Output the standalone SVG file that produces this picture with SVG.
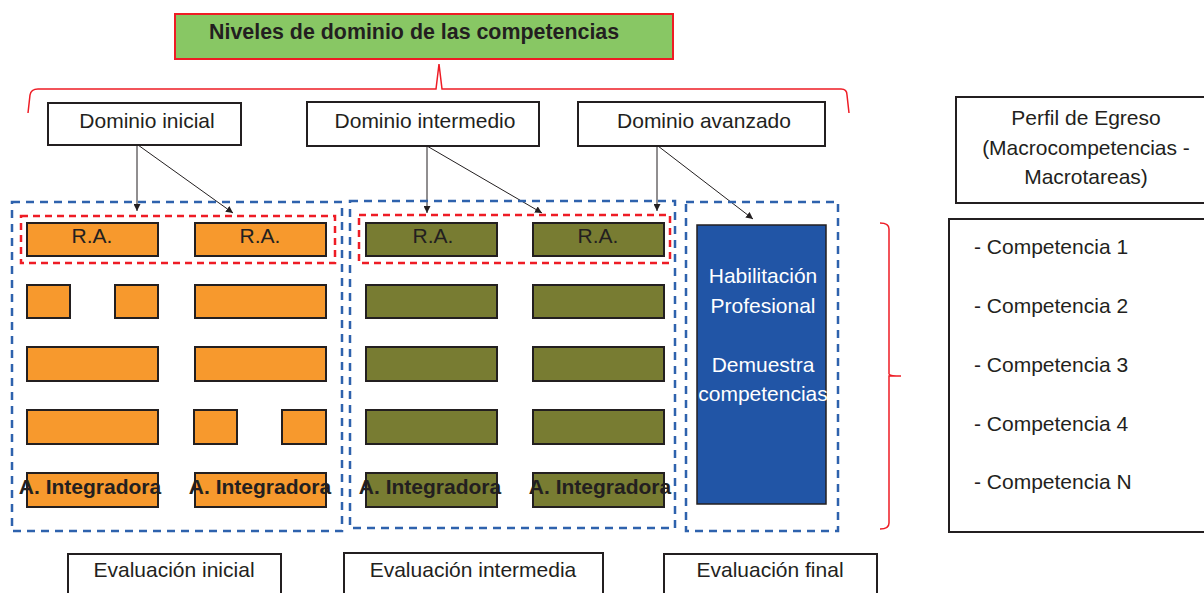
<svg xmlns="http://www.w3.org/2000/svg" width="1204" height="593" viewBox="0 0 1204 593">
<style>
text{font-family:"Liberation Sans",Arial,sans-serif;font-size:21px;fill:#231f20}
.c{text-anchor:middle}
.b{font-weight:bold}
.t{font-size:21.4px}
.w{fill:#ffffff}
.box{fill:#ffffff;stroke:#231f20;stroke-width:2}
.or{fill:#f7992d;stroke:#231f20;stroke-width:2}
.ol{fill:#787c32;stroke:#231f20;stroke-width:2}
.bd{fill:none;stroke:#2e62ad;stroke-width:2.5;stroke-dasharray:8 6}
.rd{fill:none;stroke:#ee1c25;stroke-width:2.5;stroke-dasharray:7 5}
.br{fill:none;stroke:#ee1c25;stroke-width:1.5}
.ln{stroke:#231f20;stroke-width:1;fill:none;marker-end:url(#ah)}
</style>
<defs>
<marker id="ah" viewBox="0 0 10 10" refX="10" refY="5" markerWidth="7" markerHeight="7" markerUnits="userSpaceOnUse" orient="auto"><path d="M0,0 L10,5 L0,10 z" fill="#231f20"/></marker>
</defs>
<rect width="1204" height="593" fill="#ffffff"/>
<g id="title">
<rect x="175" y="14" width="498" height="45" fill="#88c764" stroke="#ee1c25" stroke-width="2"/>
<text class="b t" x="209" y="39">Niveles de dominio de las competencias</text>
</g>
<g id="braces">
<path class="br" d="M28,113 L30,95 Q31,89 38,89 L436,89 L439,64 L442,89 L841,89 Q847,89 847,95 L849,113"/>
<path class="br" d="M880,223 Q889,223 889,229 L889,374 Q890,376 901,376 L889,376 L889,523 Q889,529 880,529"/>
</g>
<g id="dominio-inicial"><rect class="box" x="48" y="103" width="193" height="42"/><text class="c" x="147" y="128">Dominio inicial</text></g>
<g id="dominio-intermedio"><rect class="box" x="307" y="102" width="232" height="44"/><text class="c" x="425" y="128">Dominio intermedio</text></g>
<g id="dominio-avanzado"><rect class="box" x="578" y="102" width="247" height="44"/><text class="c" x="704" y="128">Dominio avanzado</text></g>
<g id="connectors">
<line class="ln" x1="137" y1="145" x2="137" y2="211"/>
<line class="ln" x1="138" y1="145" x2="233" y2="213"/>
<line class="ln" x1="427" y1="146" x2="427" y2="213"/>
<line class="ln" x1="427" y1="146" x2="542" y2="213"/>
<line class="ln" x1="657" y1="146" x2="657" y2="211"/>
<line class="ln" x1="658" y1="146" x2="753" y2="219"/>
</g>
<g id="eval-inicial-group">
<rect class="bd" x="12" y="202" width="330" height="329"/>
<rect class="rd" x="21" y="216" width="314" height="47"/>
<rect class="or" x="27" y="223" width="131" height="33"/><text class="c" x="92" y="243">R.A.</text>
<rect class="or" x="195" y="223" width="131" height="33"/><text class="c" x="260" y="243">R.A.</text>
<rect class="or" x="27" y="285" width="43" height="33"/>
<rect class="or" x="115" y="285" width="43" height="33"/>
<rect class="or" x="195" y="285" width="131" height="33"/>
<rect class="or" x="27" y="347" width="131" height="34"/>
<rect class="or" x="195" y="347" width="131" height="34"/>
<rect class="or" x="27" y="410" width="131" height="34"/>
<rect class="or" x="194" y="410" width="43" height="34"/>
<rect class="or" x="282" y="410" width="44" height="34"/>
<rect class="or" x="27" y="473" width="131" height="34"/>
<rect class="or" x="195" y="473" width="131" height="34"/>
<text class="c b" x="90" y="494">A. Integradora</text>
<text class="c b" x="260" y="494">A. Integradora</text>
</g>
<g id="eval-intermedia-group">
<rect class="bd" x="350" y="201" width="325" height="327"/>
<rect class="rd" x="359" y="215" width="311" height="48"/>
<rect class="ol" x="366" y="223" width="131" height="33"/><text class="c" x="433" y="243">R.A.</text>
<rect class="ol" x="533" y="223" width="131" height="33"/><text class="c" x="598" y="243">R.A.</text>
<rect class="ol" x="366" y="285" width="131" height="33"/>
<rect class="ol" x="533" y="285" width="131" height="33"/>
<rect class="ol" x="366" y="347" width="131" height="34"/>
<rect class="ol" x="533" y="347" width="131" height="34"/>
<rect class="ol" x="366" y="410" width="131" height="34"/>
<rect class="ol" x="533" y="410" width="131" height="34"/>
<rect class="ol" x="366" y="473" width="131" height="34"/>
<rect class="ol" x="533" y="473" width="131" height="34"/>
<text class="c b" x="430" y="494">A. Integradora</text>
<text class="c b" x="600" y="494">A. Integradora</text>
</g>
<g id="eval-final-group">
<rect class="bd" x="686" y="202" width="152" height="329"/>
<rect x="697" y="225" width="129" height="279" fill="#2155a6" stroke="#231f20" stroke-width="1.5"/>
<text class="c w" x="763" y="283">Habilitación</text>
<text class="c w" x="763" y="313">Profesional</text>
<text class="c w" x="763" y="372">Demuestra</text>
<text class="c w" x="763" y="401">competencias</text>
</g>
<g id="evaluacion-inicial"><rect class="box" x="68" y="554" width="213" height="45"/><text class="c" x="174" y="577">Evaluación inicial</text></g>
<g id="evaluacion-intermedia"><rect class="box" x="344" y="553" width="259" height="46"/><text class="c" x="473" y="577">Evaluación intermedia</text></g>
<g id="evaluacion-final"><rect class="box" x="664" y="554" width="213" height="45"/><text class="c" x="770" y="577">Evaluación final</text></g>
<g id="perfil-egreso">
<rect class="box" x="956" y="97" width="260" height="106"/>
<text class="c" x="1086" y="125">Perfil de Egreso</text>
<text class="c" x="1086" y="155">(Macrocompetencias -</text>
<text class="c" x="1086" y="184">Macrotareas)</text>
</g>
<g id="competencias">
<rect class="box" x="949" y="219" width="267" height="313"/>
<text x="974" y="254">- Competencia 1</text>
<text x="974" y="313">- Competencia 2</text>
<text x="974" y="372">- Competencia 3</text>
<text x="974" y="431">- Competencia 4</text>
<text x="974" y="489">- Competencia N</text>
</g>
</svg>
